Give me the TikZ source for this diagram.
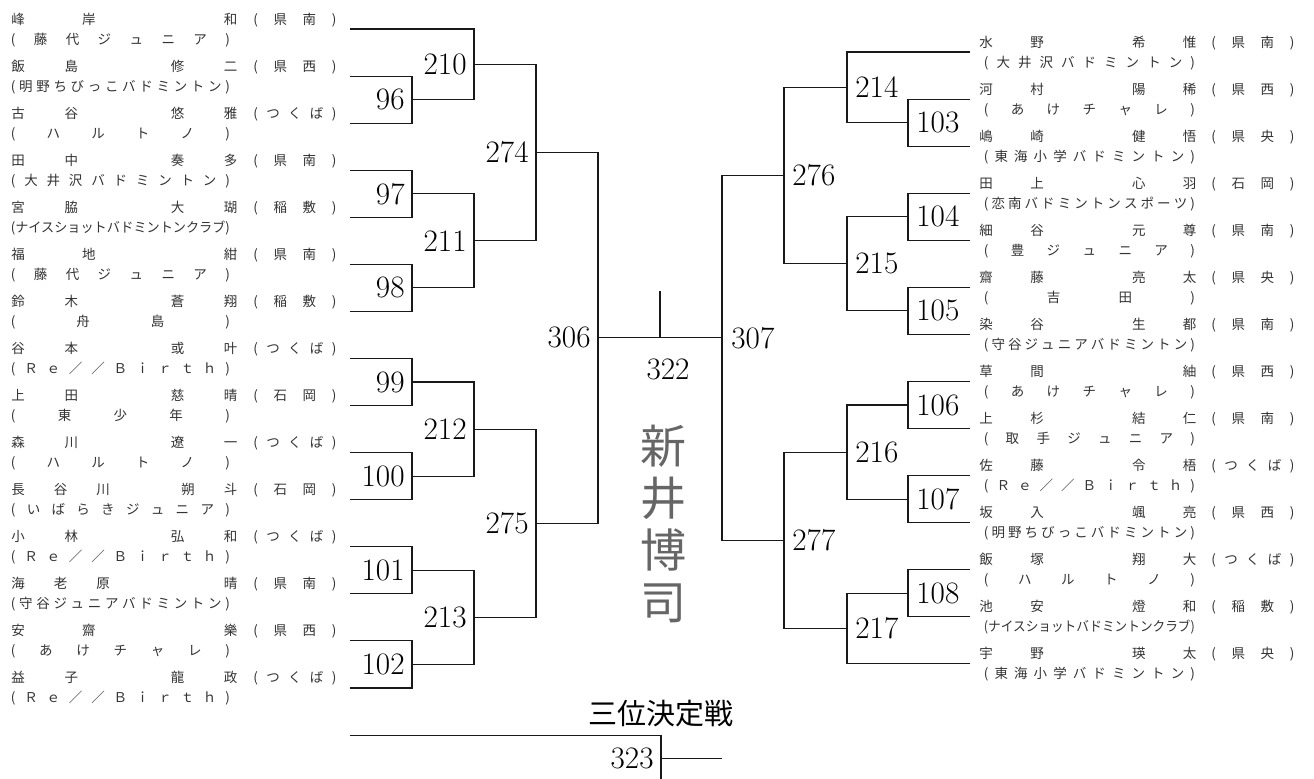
\documentclass[tikz,border=0pt]{standalone}
\usepackage{fontspec}
\usepackage{graphicx}
\usetikzlibrary{calc,positioning}
\newfontfamily\jp{Noto Sans CJK JP}
\newlength\NameLwd
\setlength\NameLwd{113pt}
\newlength\NameRwd
\setlength\NameRwd{108.5pt}
\newlength\ClubLwd
\setlength\ClubLwd{109.5pt}
\newlength\ClubRwd
\setlength\ClubRwd{105.5pt}
\newlength\Regwd
\setlength\Regwd{41.5pt}
\makeatletter
\newif\ifsp@first
\newsavebox\sp@box
\def\sp@iter#1{\ifx#1\@nil\else\ifsp@first\sp@firstfalse\else\hfill\fi#1\expandafter\sp@iter\fi}
\newcommand\Spread[2]{%
  \edef\sp@list{#2}\makebox[#1][s]{\sp@firsttrue\expandafter\sp@iter\sp@list\@nil}}
\newcommand\Club[2]{%
  \sbox\sp@box{(#2)}%
  \ifdim\wd\sp@box>#1\relax\resizebox{#1}{\height}{(#2)}\else\Spread{#1}{(#2)}\fi}
\makeatother
\begin{document}
\begin{tikzpicture}[x=0.5pt,y=-0.5pt,
    line/.style={draw=black!90,line width=0.55pt},
    num/.style={font=\fontsize{15.6}{18}\selectfont,inner sep=0pt},
    numL/.style={num,anchor=east},
    numR/.style={num,anchor=west},
    jtext/.style={font=\jp\fontsize{6.75}{8}\selectfont,text=black!80,inner sep=0pt,anchor=base west}
  ]
  \useasboundingbox (0,0) rectangle (1314,778);

  % columns of the bracket
  \coordinate (c1) at (412,0);
  \coordinate (c2) at (474,0);
  \coordinate (c3) at (536,0);
  \coordinate (c4) at (598,0);
  \coordinate (c5) at (661,0);
  \coordinate (d1) at (908,0);
  \coordinate (d2) at (847,0);
  \coordinate (d3) at (784,0);
  \coordinate (d4) at (722,0);

  % left players
  \foreach \nm/\rg/\cl [count=\k from 0] in {
      峰岸　和/県南/藤代ジュニア,
      飯島　修二/県西/明野ちびっこバドミントン,
      古谷　悠雅/つくば/ハルトノ,
      田中　奏多/県南/大井沢バドミントン,
      宮脇　大瑚/稲敷/ナイスショットバドミントンクラブ,
      福地　紺/県南/藤代ジュニア,
      鈴木　蒼翔/稲敷/舟島,
      谷本　或叶/つくば/Ｒｅ／／Ｂｉｒｔｈ,
      上田　慈晴/石岡/東少年,
      森川　遼一/つくば/ハルトノ,
      長谷川　朔斗/石岡/いばらきジュニア,
      小林　弘和/つくば/Ｒｅ／／Ｂｉｒｔｈ,
      海老原　　晴/県南/守谷ジュニアバドミントン,
      安齋　樂/県西/あけチャレ,
      益子　龍政/つくば/Ｒｅ／／Ｂｉｒｔｈ}{
    \coordinate (L\k) at (350,29+47.07*\k);
    \node[jtext] (ln\k) at (11,29+47.07*\k-5) {\Spread{\NameLwd}{\nm}};
    \node[jtext] (lr\k) at (253,29+47.07*\k-5) {\Spread{\Regwd}{(\rg)}};
    \node[jtext] (lc\k) at (10.5,29+47.07*\k+15) {\Club{\ClubLwd}{\cl}};
  }
  \coordinate (L15) at (350,735.1);
  \coordinate (L16) at (350,782.2);

  % right players
  \foreach \nm/\rg/\cl [count=\k from 0] in {
      水野　希惟/県南/大井沢バドミントン,
      河村　陽稀/県西/あけチャレ,
      嶋崎　健悟/県央/東海小学バドミントン,
      田上　心羽/石岡/恋南バドミントンスポーツ,
      細谷　元尊/県南/豊ジュニア,
      齋藤　亮太/県央/吉田,
      染谷　生都/県南/守谷ジュニアバドミントン,
      草間　　紬/県西/あけチャレ,
      上杉　結仁/県南/取手ジュニア,
      佐藤　令梧/つくば/Ｒｅ／／Ｂｉｒｔｈ,
      坂入　颯亮/県西/明野ちびっこバドミントン,
      飯塚　翔大/つくば/ハルトノ,
      池安　燈和/稲敷/ナイスショットバドミントンクラブ,
      宇野　瑛太/県央/東海小学バドミントン}{
    \coordinate (R\k) at (970,52+47.07*\k);
    \node[jtext] (rn\k) at (979,52+47.07*\k-5) {\Spread{\NameRwd}{\nm}};
    \node[jtext] (rr\k) at (1211,52+47.07*\k-5) {\Spread{\Regwd}{(\rg)}};
    \node[jtext] (rc\k) at (983.5,52+47.07*\k+15) {\Club{\ClubRwd}{\cl}};
  }

  % left half
  \foreach \m/\ina/\inb/\col in {96/L1/L2/c1,97/L3/L4/c1,98/L5/L6/c1,99/L7/L8/c1,
      100/L9/L10/c1,101/L11/L12/c1,102/L13/L14/c1,
      210/L0/j96/c2,211/j97/j98/c2,212/j99/j100/c2,213/j101/j102/c2,
      274/j210/j211/c3,275/j212/j213/c3,306/j274/j275/c4}{
    \path (\ina) -- (\inb) coordinate[pos=.5] (m\m);
    \coordinate (j\m) at (m\m -| \col);
    \draw[line] (\ina) -| (j\m) |- (\inb);
    \node[numL] (n\m) at ($(j\m)+(-7,0)$) {\m};
  }

  % right half
  \foreach \m/\ina/\inb/\col in {103/R1/R2/d1,104/R3/R4/d1,105/R5/R6/d1,106/R7/R8/d1,
      107/R9/R10/d1,108/R11/R12/d1,
      214/R0/j103/d2,215/j104/j105/d2,216/j106/j107/d2,217/j108/R13/d2,
      276/j214/j215/d3,277/j216/j217/d3,307/j276/j277/d4}{
    \path (\ina) -- (\inb) coordinate[pos=.5] (m\m);
    \coordinate (j\m) at (m\m -| \col);
    \draw[line] (\ina) -| (j\m) |- (\inb);
  }
  \foreach \m in {103,104,105,106,107,108,214,215,216,217,276,277}
    \node[numR] (n\m) at ($(j\m)+(8,0)$) {\m};

  % final
  \coordinate (f307) at (j306 -| d4);
  \draw[line] (j306) -- (f307);
  \node[numR] (n307) at ($(f307)+(9,0)$) {307};
  \coordinate (f322) at ($(j306)!.5!(f307)$);
  \coordinate (t322) at ($(f322)+(0,-47)$);
  \draw[line] (f322) -- (t322);
  \node[num] (n322) at ($(f322)+(8,32)$) {322};
  \node[font=\jp\fontsize{23}{26}\selectfont,align=center,inner sep=0pt,text=black!60]
    (sign) at ($(f322)+(3,186)$) {新\\井\\博\\司};

  % third place
  \path (L15) -- (L16) coordinate[pos=.5] (m323);
  \coordinate (j323) at (m323 -| c5);
  \draw[line] (L15) -| (j323) |- (L16);
  \coordinate (f323) at (j323 -| d4);
  \draw[line] (j323) -- (f323);
  \node[numL] (n323) at ($(j323)+(-7,0)$) {323};
  \node[font=\jp\fontsize{14.5}{16}\selectfont,inner sep=0pt] (third) at ($(j323)+(0,-45)$) {三位決定戦};
\end{tikzpicture}
\end{document}
